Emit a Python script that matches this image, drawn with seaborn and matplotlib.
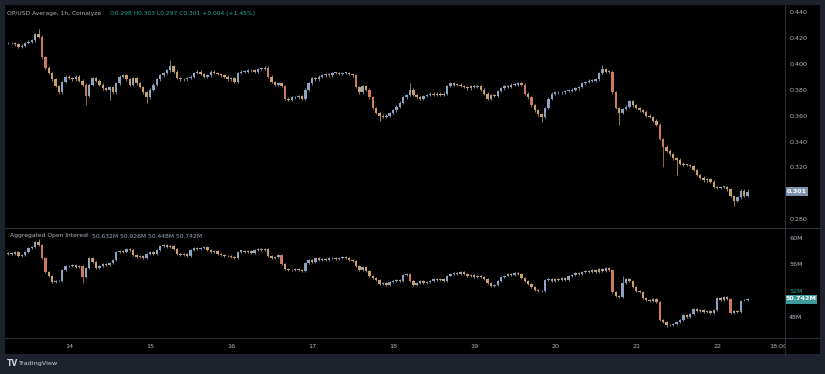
import numpy as np
import pandas as pd
import matplotlib
matplotlib.use("Agg")
import matplotlib.pyplot as plt
import seaborn as sns
from matplotlib.patches import Rectangle
from matplotlib.lines import Line2D

# ---------------- data ----------------
first_hour = 6          # first candle: 13th, 06:00 (hours counted from 13th 00:00)
price_open_first = 0.416
price_close = [
    0.416, 0.416, 0.415, 0.413, 0.414, 0.416, 0.417, 0.418, 0.423, 0.421,
    0.405, 0.397, 0.393, 0.388, 0.383, 0.378, 0.386, 0.390, 0.389, 0.388,
    0.390, 0.387, 0.384, 0.375, 0.384, 0.389, 0.387, 0.384, 0.381, 0.380,
    0.382, 0.378, 0.385, 0.390, 0.391, 0.388, 0.384, 0.389, 0.385, 0.382,
    0.378, 0.374, 0.380, 0.384, 0.388, 0.391, 0.393, 0.395, 0.398, 0.394,
    0.389, 0.388, 0.388, 0.389, 0.390, 0.393, 0.394, 0.392, 0.390, 0.391,
    0.394, 0.393, 0.392, 0.391, 0.390, 0.388, 0.389, 0.386, 0.393, 0.394,
    0.394, 0.395, 0.395, 0.394, 0.396, 0.396, 0.397, 0.390, 0.386, 0.384,
    0.385, 0.383, 0.373, 0.372, 0.374, 0.374, 0.375, 0.373, 0.380, 0.385,
    0.389, 0.388, 0.390, 0.391, 0.392, 0.391, 0.393, 0.393, 0.392, 0.393,
    0.393, 0.392, 0.391, 0.382, 0.378, 0.383, 0.380, 0.374, 0.366, 0.362,
    0.360, 0.359, 0.360, 0.362, 0.364, 0.367, 0.370, 0.374, 0.376, 0.380,
    0.376, 0.374, 0.373, 0.375, 0.376, 0.377, 0.376, 0.377, 0.376, 0.377,
    0.383, 0.385, 0.384, 0.384, 0.383, 0.382, 0.381, 0.383, 0.382, 0.383,
    0.380, 0.377, 0.373, 0.376, 0.375, 0.379, 0.381, 0.383, 0.382, 0.384,
    0.384, 0.385, 0.384, 0.377, 0.374, 0.368, 0.364, 0.361, 0.359, 0.366,
    0.373, 0.377, 0.378, 0.378, 0.378, 0.379, 0.379, 0.380, 0.381, 0.382,
    0.385, 0.386, 0.387, 0.387, 0.388, 0.393, 0.396, 0.394, 0.394, 0.378,
    0.366, 0.362, 0.365, 0.367, 0.371, 0.368, 0.366, 0.364, 0.363, 0.360,
    0.359, 0.356, 0.353, 0.342, 0.336, 0.333, 0.330, 0.327, 0.326, 0.323,
    0.322, 0.322, 0.321, 0.318, 0.314, 0.312, 0.310, 0.311, 0.309, 0.305,
    0.304, 0.305, 0.305, 0.303, 0.298, 0.294, 0.297, 0.302, 0.298, 0.301,
]
price_high_wicks = {9: 0.427, 48: 0.403, 119: 0.385, 176: 0.399, 219: 0.303}
price_low_wicks = {23: 0.368, 30: 0.372, 41: 0.370, 110: 0.356, 158: 0.355,
                   181: 0.353, 194: 0.320, 198: 0.314, 215: 0.290, 219: 0.297}

oi_open_first = 57.6
oi_close = [
    57.7, 57.6, 57.9, 57.2, 57.4, 57.8, 58.5, 58.6, 59.4, 59.0,
    57.0, 54.8, 54.2, 53.3, 53.4, 53.4, 55.1, 55.8, 55.7, 55.9,
    55.6, 55.8, 54.0, 55.5, 57.0, 56.4, 55.4, 55.8, 56.1, 55.9,
    56.2, 56.6, 57.9, 58.0, 57.8, 58.3, 58.2, 57.4, 57.1, 57.3,
    57.0, 57.6, 57.8, 57.6, 58.2, 58.8, 58.9, 58.7, 58.8, 58.3,
    57.6, 57.4, 57.6, 57.3, 58.2, 58.5, 58.3, 58.5, 58.6, 58.2,
    57.9, 58.1, 57.6, 57.4, 57.2, 57.3, 57.1, 56.9, 57.8, 58.1,
    57.9, 58.0, 57.7, 58.2, 58.4, 58.1, 58.3, 57.3, 56.9, 57.1,
    57.4, 56.0, 55.3, 55.2, 55.1, 55.3, 55.2, 55.0, 56.2, 56.6,
    56.4, 56.9, 56.7, 56.8, 56.6, 56.9, 57.0, 56.8, 56.9, 57.1,
    56.9, 56.7, 56.5, 55.8, 55.2, 55.6, 55.0, 54.2, 53.9, 53.6,
    53.0, 53.1, 52.9, 53.3, 53.5, 53.6, 53.4, 54.4, 54.6, 53.5,
    52.8, 53.1, 53.4, 53.2, 53.3, 53.5, 53.8, 53.6, 53.7, 53.5,
    54.3, 54.6, 54.7, 54.5, 54.8, 54.6, 54.2, 54.4, 54.1, 54.3,
    54.0, 53.7, 53.2, 52.7, 52.9, 53.4, 54.0, 54.3, 54.6, 54.4,
    54.7, 54.5, 53.9, 53.4, 53.0, 52.6, 52.1, 51.9, 52.0, 53.6,
    53.8, 53.5, 53.7, 53.6, 53.9, 53.6, 54.2, 54.4, 54.7, 54.5,
    54.9, 55.0, 54.8, 55.2, 54.9, 55.3, 55.0, 55.4, 55.1, 51.8,
    51.2, 51.0, 53.2, 53.8, 53.4, 52.5, 52.0, 51.8, 50.9, 50.6,
    50.4, 50.7, 50.3, 47.6, 47.3, 46.8, 46.7, 46.9, 47.2, 47.6,
    48.3, 48.0, 48.5, 49.2, 48.9, 49.0, 48.7, 48.9, 48.6, 49.1,
    50.9, 50.6, 51.0, 50.8, 48.6, 48.9, 48.7, 50.5, 50.632, 50.742,
]
oi_high_wicks = {9: 59.8, 182: 54.2, 219: 50.926}
oi_low_wicks = {22: 53.2, 195: 46.4, 219: 50.448}

day_labels = ["14", "15", "16", "17", "18", "19", "20", "21", "22"]
day_hours = [24, 48, 72, 96, 120, 144, 168, 192, 216]
last_label_hour = 234
last_label_text = "18:00"

price_ticks = [0.280, 0.320, 0.340, 0.360, 0.380, 0.400, 0.420, 0.440]
oi_ticks = [48, 52, 56, 60]

title_main = "OP/USD Average, 1h, Coinalyze"
title_vals = "O0.298 H0.303 L0.297 C0.301 +0.004 (+1.45%)"
oi_title = "Aggregated Open Interest"
oi_vals = "50.632M 50.926M 50.448M 50.742M"

# ---------------- style ----------------
sns.set_theme(style="dark")
plt.rcParams["font.family"] = ["DejaVu Sans"]

W, H = 825, 374
BG_OUT = "#1e222d"
BG_IN = "#000000"
LINE = "#2a2e39"
TXT = "#b2b5be"
UP = "#8ea3bf"
DN = "#c9a06c"
BIG_DN = "#cc7b5c"
FS = 4.6
FS_LEG = 4.3


def fx(px):
    return px / W


def fy(py):
    return 1 - py / H


fig = plt.figure(figsize=(W / 100, H / 100), dpi=100, facecolor=BG_OUT)
fig.add_artist(Rectangle((fx(5), fy(354)), fx(815), 349 / H, transform=fig.transFigure,
                         facecolor=BG_IN, edgecolor="none", zorder=0))

L, R = 5, 785
ax1 = fig.add_axes([fx(L), fy(227), fx(R - L), (227 - 5) / H])
ax2 = fig.add_axes([fx(L), fy(338), fx(R - L), (338 - 228) / H])
ax3 = fig.add_axes([fx(L), fy(354), fx(R - L), (354 - 338) / H])

xlim = (first_hour - 0.96, first_hour + 230.1)


def build(opens_first, closes, hi_w, lo_w, default_w):
    c = np.array(closes, dtype=float)
    o = np.concatenate([[opens_first], c[:-1]])
    hi = np.maximum(o, c) + default_w
    lo = np.minimum(o, c) - default_w
    for k, v in hi_w.items():
        hi[k] = v
    for k, v in lo_w.items():
        lo[k] = v
    x = first_hour + np.arange(len(c))
    return pd.DataFrame({"x": x, "open": o, "high": hi, "low": lo, "close": c})


def draw(ax, df, big, minh):
    o, c = df["open"].values, df["close"].values
    cols = np.where(c >= o, UP, np.where((o - c) > big, BIG_DN, DN))
    ax.vlines(df["x"], df["low"], df["high"], colors=cols, linewidth=0.55, zorder=2)
    h = np.maximum(np.abs(c - o), minh)
    ax.bar(df["x"], h, bottom=np.minimum(o, c), width=0.72, color=cols,
           linewidth=0, zorder=3)


price = build(price_open_first, price_close, price_high_wicks, price_low_wicks, 0.0010)
oi = build(oi_open_first, oi_close, oi_high_wicks, oi_low_wicks, 0.15)

draw(ax1, price, 0.006, 0.0004)
draw(ax2, oi, 1.0, 0.09)

ax1.set_ylim(0.274, 0.4454)
ax2.set_ylim(44.8, 61.52)
for ax in (ax1, ax2, ax3):
    ax.set_xlim(*xlim)
    ax.set_facecolor(BG_IN)
    ax.grid(False)
    for s in ax.spines.values():
        s.set_visible(False)
    ax.spines["right"].set_visible(True)
    ax.spines["right"].set_color(LINE)
    ax.spines["right"].set_linewidth(0.8)
    ax.set_xticks([])

for ax, ticks, fmt in ((ax1, price_ticks, "{:.3f}"), (ax2, oi_ticks, "{}M")):
    ax.yaxis.tick_right()
    ax.set_yticks(ticks)
    ax.set_yticklabels([fmt.format(t) for t in ticks])
    ax.tick_params(axis="y", length=0, pad=3, labelsize=FS, labelcolor=TXT)
for lab, t in zip(ax2.get_yticklabels(), oi_ticks):
    if t == 52:
        lab.set_color("#26a69a")
ax3.set_yticks([])

# time axis labels
for hh, lab in zip(day_hours, day_labels):
    ax3.text(hh, 0.5, lab, ha="center", va="center", fontsize=FS, color=TXT)
ax3.text(last_label_hour, 0.5, last_label_text, ha="center", va="center", fontsize=FS,
         color=TXT, clip_on=True)
ax3.set_ylim(0, 1)

# separator lines
fig.add_artist(Line2D([fx(5), fx(820)], [fy(227.5), fy(227.5)], transform=fig.transFigure,
                      color=LINE, linewidth=0.8))
fig.add_artist(Line2D([fx(5), fx(820)], [fy(338), fy(338)], transform=fig.transFigure,
                      color=LINE, linewidth=0.8))

# last value labels
fig.add_artist(Rectangle((fx(786), fy(195.5)), fx(22), 9 / H, transform=fig.transFigure,
                         facecolor="#7d93ab", edgecolor="none"))
fig.text(fx(797), fy(191), "0.301", ha="center", va="center", fontsize=FS,
         color="white", fontweight="bold")
fig.add_artist(Rectangle((fx(786), fy(303.5)), fx(31), 9 / H, transform=fig.transFigure,
                         facecolor="#3e9a9a", edgecolor="none"))
fig.text(fx(801.5), fy(299), "50.742M", ha="center", va="center", fontsize=FS,
         color="white", fontweight="bold")

# legends
fig.text(fx(7), fy(14), title_main, ha="left", va="center", fontsize=FS_LEG, color=TXT)
fig.text(fx(110), fy(14), title_vals, ha="left", va="center", fontsize=FS_LEG, color="#22ab94")
fig.text(fx(10), fy(236), oi_title, ha="left", va="center", fontsize=FS_LEG, color=TXT)
fig.text(fx(92), fy(236), oi_vals, ha="left", va="center", fontsize=FS_LEG, color="#9aa7bd")

# footer logo
fig.text(fx(7), fy(364), "TV", ha="left", va="center", fontsize=5.5, color="#d1d4dc",
         fontweight="bold")
fig.text(fx(18), fy(364), "TradingView", ha="left", va="center", fontsize=FS, color="#d1d4dc")

fig.savefig("out.png", dpi=100, facecolor=BG_OUT)
